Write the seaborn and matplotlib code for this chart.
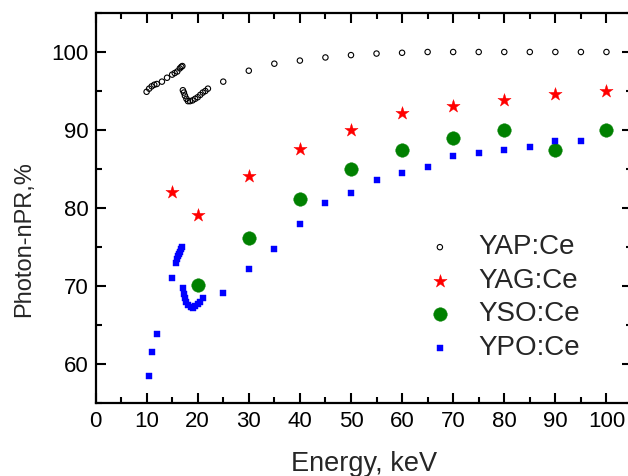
import matplotlib
matplotlib.use("Agg")
import matplotlib.pyplot as plt
import seaborn as sns
from matplotlib.ticker import MultipleLocator

# ---------------- data ----------------
yap_energy = [10, 10.5, 11, 11.5, 12, 13, 14, 15, 15.5, 16, 16.5, 16.8, 17.0,
              17.1, 17.3, 17.5, 17.8, 18.1, 18.5, 19.0, 19.5, 20.0, 20.5, 21.0, 21.5, 22.0,
              25, 30, 35, 40, 45, 50, 55, 60, 65, 70, 75, 80, 85, 90, 95, 100]
yap_npr = [94.9, 95.3, 95.6, 95.8, 95.9, 96.2, 96.7, 97.1, 97.3, 97.5, 97.9, 98.1, 98.2,
           95.1, 94.8, 94.4, 94.0, 93.7, 93.7, 93.8, 94.0, 94.2, 94.5, 94.8, 95.0, 95.3,
           96.2, 97.6, 98.5, 98.9, 99.3, 99.6, 99.8, 99.9, 100.0, 100.0, 100.0, 100.0,
           100.0, 100.0, 100.0, 100.0]

yag_energy = [15, 20, 30, 40, 50, 60, 70, 80, 90, 100]
yag_npr = [82.1, 79.1, 84.1, 87.6, 90.0, 92.2, 93.1, 93.8, 94.6, 95.0]

yso_energy = [20, 30, 40, 50, 60, 70, 80, 90, 100]
yso_npr = [70.1, 76.1, 81.1, 85.0, 87.5, 89.0, 90.0, 87.5, 90.0]

ypo_energy = [10.5, 11, 12, 15, 15.8, 16.0, 16.2, 16.4, 16.6, 16.8, 17.0,
              17.1, 17.3, 17.5, 17.8, 18.2, 18.6, 19.0, 19.5, 20.0, 20.5, 21.0,
              25, 30, 35, 40, 45, 50, 55, 60, 65, 70, 75, 80, 85, 90, 95]
ypo_npr = [58.5, 61.6, 63.9, 71.0, 73.0, 73.4, 73.8, 74.1, 74.4, 74.7, 75.0,
           69.8, 69.0, 68.5, 68.0, 67.6, 67.3, 67.2, 67.4, 67.7, 68.0, 68.4,
           69.1, 72.2, 74.8, 78.0, 80.6, 81.9, 83.6, 84.5, 85.3, 86.7, 87.05,
           87.4, 87.8, 88.6, 88.6]

x_ticks = [0, 10, 20, 30, 40, 50, 60, 70, 80, 90, 100]
y_ticks = [60, 70, 80, 90, 100]

# ---------------- style ----------------
sns.set_style("ticks")
plt.rcParams["font.family"] = ["Liberation Sans", "DejaVu Sans"]

W, H = 628, 476
fig = plt.figure(figsize=(W / 100, H / 100), dpi=100)
ax = fig.add_axes([95.5 / W, 1 - 403 / H, 536.5 / W, 390 / H])

sns.scatterplot(x=yap_energy, y=yap_npr, marker="o", s=15, color="black",
                linewidth=0.8, label="YAP:Ce", ax=ax)
ax.collections[-1].set_facecolor("none")
ax.collections[-1].set_edgecolor("black")
sns.scatterplot(x=yag_energy, y=yag_npr, marker="*", s=100, color="#ff0000",
                edgecolor="#ff0000", linewidth=0.3, label="YAG:Ce", ax=ax)
sns.scatterplot(x=yso_energy, y=yso_npr, marker="o", s=95, color="#008000",
                edgecolor="#008000", linewidth=0.3, label="YSO:Ce", ax=ax)
sns.scatterplot(x=ypo_energy, y=ypo_npr, marker="s", s=13, color="#0000ff",
                edgecolor="#0000ff", linewidth=0.3, label="YPO:Ce", ax=ax)

ax.set_xlim(0, 105)
ax.set_ylim(55, 105)
ax.set_xticks(x_ticks)
ax.set_yticks(y_ticks)
ax.xaxis.set_minor_locator(MultipleLocator(5))
ax.yaxis.set_minor_locator(MultipleLocator(5))
ax.tick_params(which="both", direction="in", top=True, right=True,
               width=1.5, color="black", labelsize=16, labelcolor="black")
ax.tick_params(which="major", length=7.5)
ax.tick_params(axis="x", which="major", pad=6)
ax.tick_params(axis="y", which="major", pad=5)
ax.tick_params(which="minor", length=4.5)
for sp in ax.spines.values():
    sp.set_linewidth(1.6)
    sp.set_color("black")

ax.set_xlabel("Energy, keV", fontsize=19.5)
ax.set_ylabel("Photon-nPR,%", fontsize=17)
ax.xaxis.set_label_coords(0.5, -0.122)
ax.yaxis.set_label_coords(-0.112, 0.42)

leg = ax.legend(loc="center left", bbox_to_anchor=(0.616, 0.27), frameon=False,
                fontsize=20, handlelength=1.0, handletextpad=0.9, borderpad=0,
                labelspacing=0.27, borderaxespad=0, scatterpoints=1)

fig.savefig("out.png", dpi=100)
